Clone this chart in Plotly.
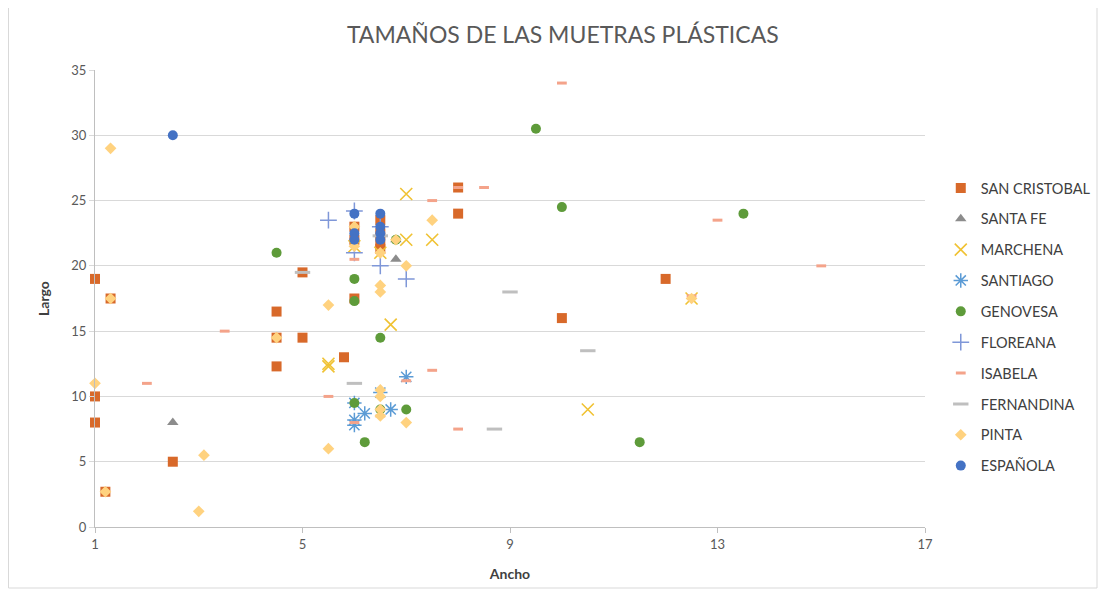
import plotly.graph_objects as go

# ---- data ----
sc_x = [1, 1, 1, 1.3, 1.2, 2.5, 4.5, 4.5, 4.5, 5, 5, 5.8, 6, 6, 6, 6.5, 6.5, 6.5, 6.5, 8, 8, 10, 12]
sc_y = [19, 10, 8, 17.5, 2.7, 5, 16.5, 14.5, 12.3, 19.5, 14.5, 13, 17.5, 23, 22, 23.5, 22.5, 21.8, 21.3, 26, 24, 16, 19]

sf_x = [2.5, 6.8, 6.8]
sf_y = [8, 20.5, 22]

ma_x = [7, 7, 7.5, 6.7, 5.5, 5.5, 10.5, 12.5, 6, 6.5]
ma_y = [25.5, 22, 22, 15.5, 12.5, 12.3, 9, 17.5, 21.5, 21]

st_x = [6, 6, 6.2, 6.7, 7, 6, 6.5]
st_y = [8.2, 7.8, 8.7, 9, 11.5, 9.5, 10.3]

ge_x = [4.5, 6, 6, 6.5, 6, 6.5, 7, 6.2, 9.5, 10, 13.5, 11.5, 6.8]
ge_y = [21, 19, 17.3, 14.5, 9.5, 9, 9, 6.5, 30.5, 24.5, 24, 6.5, 22]

fl_x = [5.5, 6, 6, 6.5, 7, 6.5]
fl_y = [23.5, 24.2, 21, 20, 19, 23]

is_x = [2, 3.5, 5.5, 6, 7.5, 7.5, 8, 8.5, 8, 10, 13, 15, 12.5, 7, 6.5, 6]
is_y = [11, 15, 10, 20.5, 25, 12, 7.5, 26, 26, 34, 23.5, 20, 17.7, 11.2, 8.5, 8]

fe_x = [0.98, 6, 5, 9, 10.5, 8.7, 6.5]
fe_y = [2.8, 11, 19.5, 18, 13.5, 7.5, 22.3]

pi_x = [1, 1.3, 1.3, 1.2, 3.1, 3, 4.5, 5.5, 5.5, 6, 6, 6.5, 6.5, 6.5, 7, 7.5, 6.8, 6.5, 6.5, 6.5, 6.5, 7, 12.5]
pi_y = [11, 29, 17.5, 2.7, 5.5, 1.2, 14.5, 17, 6, 23, 21.5, 18.5, 18, 21, 20, 23.5, 22, 10.5, 10, 9, 8.5, 8, 17.5]

es_x = [2.5, 6, 6, 6, 6.5, 6.5, 6.5, 6.5]
es_y = [30, 24, 22.5, 22, 24, 23, 22.5, 22]

x_ticks = [1, 5, 9, 13, 17]
y_ticks = [0, 5, 10, 15, 20, 25, 30, 35]

series = [
    ("SAN CRISTOBAL", sc_x, sc_y, dict(symbol="square", size=10, color="#D8692A")),
    ("SANTA FE", sf_x, sf_y, dict(symbol="triangle-up", size=10, color="#8C8C8C")),
    ("MARCHENA", ma_x, ma_y, dict(symbol="x-thin-open", size=12, color="#F0C233", line=dict(width=1.6, color="#F0C233"))),
    ("SANTIAGO", st_x, st_y, dict(symbol="asterisk-open", size=12, color="#5B9BD5", line=dict(width=1.5, color="#5B9BD5"))),
    ("GENOVESA", ge_x, ge_y, dict(symbol="circle", size=10, color="#5E9B3A")),
    ("FLOREANA", fl_x, fl_y, dict(symbol="cross-thin-open", size=12, color="#7F97D8", line=dict(width=1.5, color="#7F97D8"))),
    ("ISABELA", is_x, is_y, dict(symbol="line-ew-open", size=7, color="#F4A38A", line=dict(width=3, color="#F4A38A"))),
    ("FERNANDINA", fe_x, fe_y, dict(symbol="line-ew-open", size=11, color="#BFBFBF", line=dict(width=3, color="#BFBFBF"))),
    ("PINTA", pi_x, pi_y, dict(symbol="diamond", size=9, color="#FFD27F")),
    ("ESPAÑOLA", es_x, es_y, dict(symbol="circle", size=10, color="#4472C4")),
]

fig = go.Figure()
for name, xs, ys, mk in series:
    fig.add_trace(go.Scatter(x=xs, y=ys, mode="markers", name=name, marker=mk,
                             legendgroup=name, cliponaxis=False))

W, H = 1090, 584
L, R, T, B = 87, 173, 62, 65

fig.update_layout(
    width=W, height=H,
    margin=dict(l=L, r=R, t=T, b=B, autoexpand=False),
    paper_bgcolor="white", plot_bgcolor="white",
    font=dict(family="Lato, Open Sans, sans-serif", color="#595959"),
    title=dict(text="TAMAÑOS DE LAS MUETRAS PLÁSTICAS", x=0.509, xanchor="center",
               y=0.954, yanchor="middle", font=dict(size=23, color="#595959")),
    xaxis=dict(range=[1, 17], tickvals=x_ticks, showgrid=False, zeroline=False,
               showline=True, linecolor="#BFBFBF", linewidth=1,
               ticks="outside", ticklen=5, tickcolor="#BFBFBF",
               tickfont=dict(size=13, color="#595959"),
               title=dict(text="<b>Ancho</b>", font=dict(size=14, color="#404040"), standoff=18)),
    yaxis=dict(range=[0, 35], tickvals=y_ticks, showgrid=True, gridcolor="#D9D9D9", gridwidth=1,
               zeroline=False, showline=True, linecolor="#BFBFBF", linewidth=1,
               ticks="outside", ticklen=5, tickcolor="#D9D9D9",
               tickfont=dict(size=13, color="#595959"),
               title=dict(text="<b>Largo</b>", font=dict(size=14, color="#404040"), standoff=18)),
    legend=dict(x=1.019, xanchor="left", y=0.4376, yanchor="middle",
                font=dict(size=14.5, color="#404040"), tracegroupgap=9,
                itemwidth=30, bgcolor="rgba(0,0,0,0)"),
    showlegend=True,
)

# chart-area border
pw, ph = W - L - R, H - T - B
fig.add_shape(type="rect", xref="paper", yref="paper",
              x0=(0.5 - L) / pw, x1=(W - 1 - L) / pw,
              y0=(H - T - (H - 1)) / ph, y1=(H - T - 0.5) / ph,
              line=dict(color="#D9D9D9", width=1), layer="below")

fig.write_html("out.html")
